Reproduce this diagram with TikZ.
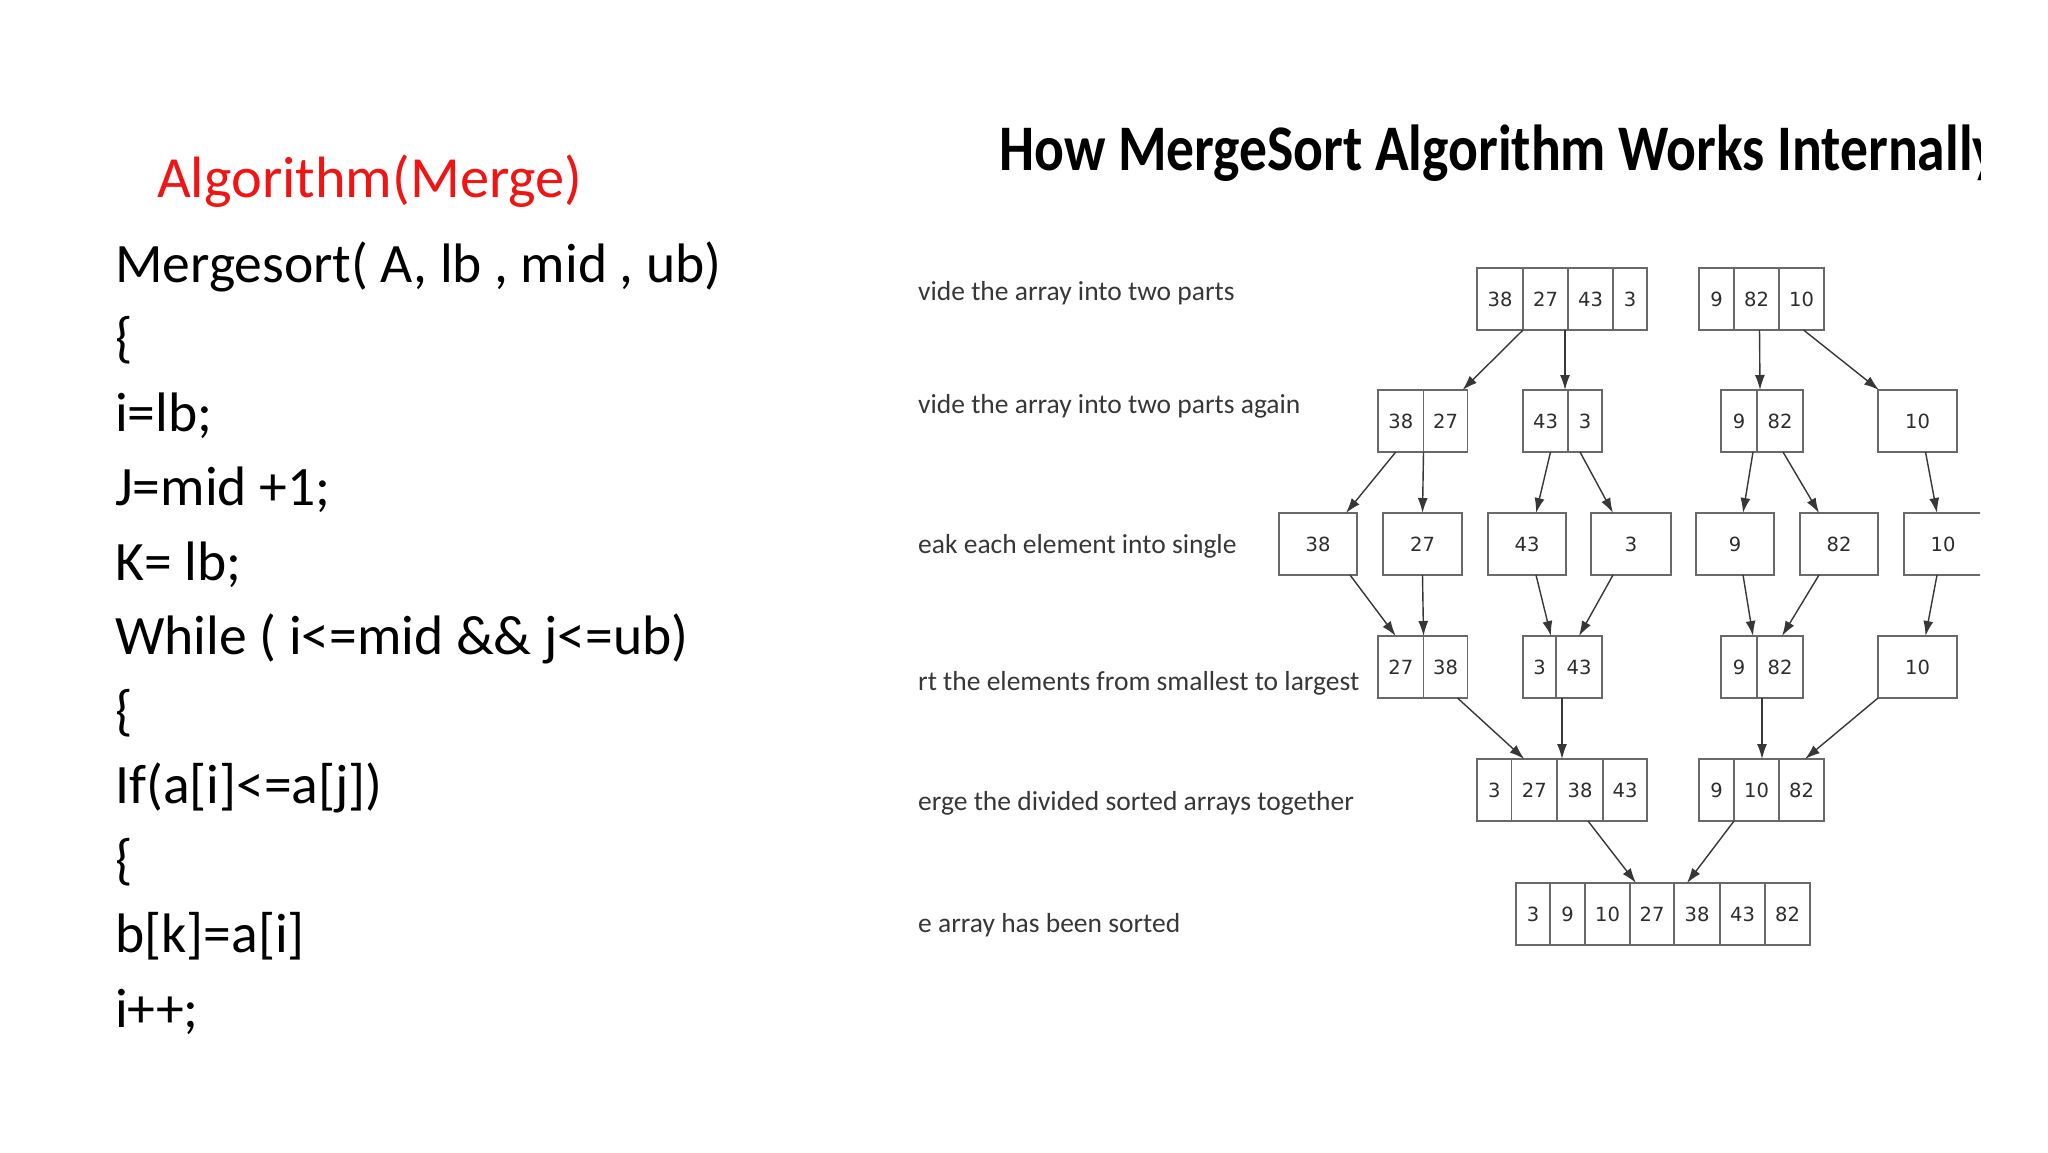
\documentclass[tikz,border=0pt]{standalone}
\usepackage{fontspec}
\setmainfont{Carlito}
\newfontfamily\numfont{DejaVu Sans}
\usetikzlibrary{arrows.meta,calc}
\definecolor{algred}{RGB}{240,20,20}
\definecolor{boxgray}{RGB}{105,105,105}
\definecolor{numgray}{RGB}{45,45,45}
\definecolor{lblgray}{RGB}{55,55,55}
\definecolor{arrgray}{RGB}{55,55,55}
\newcommand\cellnode[5]{\node[cell, minimum width=#4pt] (#1) at (#2,#3) {#5};}
\begin{document}
\begin{tikzpicture}[x=1pt,y=-1pt,
  codeline/.style={anchor=base west, inner sep=0pt, font=\fontsize{55.6}{60}\selectfont, text=black},
  steplabel/.style={anchor=base west, inner sep=0pt, font=\fontsize{27.5}{30}\selectfont, text=lblgray},
  cell/.style={draw=boxgray, line width=1.6pt, minimum height=62pt, inner sep=0pt, outer sep=0pt, anchor=north west, font=\numfont\fontsize{19.5}{22}\selectfont, text=numgray},
  conn/.style={draw=arrgray, line width=1.4pt, -{Latex[length=15pt,width=10pt]}}]
\fill[white] (0,0) rectangle (2048,1152);
\useasboundingbox (0,0) rectangle (2048,1152);

% left code
\node[codeline, text=algred, font=\fontsize{58.3}{60}\selectfont] (alg) at (157,197) {Algorithm(Merge)};
\node[codeline] (l0) at (115,282) {Mergesort( A, lb , mid , ub)};
\node[codeline] (l1) at (115,356.5) {\{};
\node[codeline] (l2) at (115,431) {i=lb;};
\node[codeline] (l3) at (115,505.5) {J=mid +1;};
\node[codeline] (l4) at (115,580) {K= lb;};
\node[codeline] (l5) at (115,654.5) {While ( i<=mid \&\& j<=ub)};
\node[codeline] (l6) at (115,729) {\{};
\node[codeline] (l7) at (115,803.5) {If(a[i]<=a[j])};
\node[codeline] (l8) at (115,878) {\{};
\node[codeline] (l9) at (115,952.5) {b[k]=a[i]};
\node[codeline] (l10) at (115,1027) {i++;};

\begin{scope}
\clip (918,0) rectangle (1980,1152);
% title
\node[anchor=base west, inner sep=0pt, font=\bfseries\fontsize{55.6}{58}\selectfont] (title) at (999,170) {\scalebox{1}[1.17]{How MergeSort Algorithm Works Internally}};

% step labels
\node[steplabel] (s1) at (918,300) {vide the array into two parts};
\node[steplabel] (s2) at (918,413) {vide the array into two parts again};
\node[steplabel] (s3) at (918,553) {eak each element into single};
\node[steplabel] (s4) at (918,690) {rt the elements from smallest to largest};
\node[steplabel] (s5) at (918,810) {erge the divided sorted arrays together};
\node[steplabel] (s6) at (918,932) {e array has been sorted};

% row 1
\cellnode{a1}{1477}{268}{46}{38}
\cellnode{a2}{1523}{268}{45}{27}
\cellnode{a3}{1568}{268}{45}{43}
\cellnode{a4}{1613}{268}{34}{3}
\cellnode{b1}{1699}{268}{35}{9}
\cellnode{b2}{1734}{268}{45}{82}
\cellnode{b3}{1779}{268}{45}{10}
% row 2
\cellnode{c1}{1378}{390}{45.5}{38}
\cellnode{c2}{1423.5}{390}{44}{27}
\cellnode{d1}{1523}{390}{45}{43}
\cellnode{d2}{1568}{390}{34}{3}
\cellnode{e1}{1721}{390}{36}{9}
\cellnode{e2}{1757}{390}{46}{82}
\cellnode{f1}{1878}{390}{79}{10}
% row 3
\cellnode{g38}{1279}{513}{78}{38}
\cellnode{g27}{1383}{513}{79}{27}
\cellnode{g43}{1488}{513}{78}{43}
\cellnode{g3}{1591}{513}{80}{3}
\cellnode{g9}{1696}{513}{78}{9}
\cellnode{g82}{1800}{513}{78}{82}
\cellnode{g10}{1904}{513}{78}{10}
% row 4
\cellnode{h1}{1378}{636}{45.5}{27}
\cellnode{h2}{1423.5}{636}{44}{38}
\cellnode{i1}{1523}{636}{33}{3}
\cellnode{i2}{1556}{636}{46}{43}
\cellnode{j1}{1721}{636}{36}{9}
\cellnode{j2}{1757}{636}{46}{82}
\cellnode{k1}{1878}{636}{79}{10}
% row 5
\cellnode{l1}{1477}{759}{34.5}{3}
\cellnode{l2}{1511.5}{759}{45.5}{27}
\cellnode{l3}{1557}{759}{46}{38}
\cellnode{l4}{1603}{759}{44}{43}
\cellnode{m1}{1699}{759}{35}{9}
\cellnode{m2}{1734}{759}{45}{10}
\cellnode{m3}{1779}{759}{45}{82}
% row 6
\cellnode{n1}{1516}{883}{34}{3}
\cellnode{n2}{1550}{883}{35}{9}
\cellnode{n3}{1585}{883}{45}{10}
\cellnode{n4}{1630}{883}{44}{27}
\cellnode{n5}{1674}{883}{46}{38}
\cellnode{n6}{1720}{883}{45}{43}
\cellnode{n7}{1765}{883}{45}{82}

% arrows row1 -> row2
\draw[conn] (a1.south east) -- ($(c2.north east)+(-5,0)$);
\draw[conn] ($(a3.south west)+(-3,0)$) -- ($(d1.north east)+(-3,0)$);
\draw[conn] ($(b2.south)+(3,0)$) -- ($(e1.north east)+(3,0)$);
\draw[conn] ($(b3.south)+(2,0)$) -- ($(f1.north west)+(1,0)$);
% row2 -> row3
\draw[conn] ($(c1.south)+(-5,0)$) -- ($(g38.north east)+(-11,0)$);
\draw[conn] (c1.south east) -- (g27.north);
\draw[conn] ($(d1.south)+(5,0)$) -- ($(g43.north)+(9,0)$);
\draw[conn] ($(d2.south)+(-5,0)$) -- ($(g3.north)+(-18,0)$);
\draw[conn] ($(e1.south east)+(-4,0)$) -- ($(g9.north)+(8,0)$);
\draw[conn] ($(e2.south)+(3,0)$) -- ($(g82.north)+(-20,0)$);
\draw[conn] ($(f1.south)+(8,0)$) -- ($(g10.north)+(-6,0)$);
% row3 -> row4
\draw[conn] ($(g38.south east)+(-7,0)$) -- ($(h1.north)+(-5,0)$);
\draw[conn] (g27.south) -- (h1.north east);
\draw[conn] ($(g43.south)+(9,0)$) -- ($(i1.north east)+(-5,0)$);
\draw[conn] ($(g3.south)+(-18,0)$) -- (i2.north);
\draw[conn] ($(g9.south)+(8,0)$) -- ($(j1.north east)+(-4,0)$);
\draw[conn] ($(g82.south)+(-20,0)$) -- ($(j2.north)+(2,0)$);
\draw[conn] ($(g10.south)+(-6,0)$) -- ($(k1.north)+(8,0)$);
% row4 -> row5
\draw[conn] ($(h2.south)+(12,0)$) -- ($(l2.north)+(-10,0)$);
\draw[conn] ($(i2.south west)+(6,0)$) -- ($(l3.north west)+(5,0)$);
\draw[conn] ($(j2.south west)+(5,0)$) -- ($(m2.north)+(5.5,0)$);
\draw[conn] (k1.south west) -- ($(m3.north)+(3.5,0)$);
% row5 -> row6
\draw[conn] ($(l3.south)+(8,0)$) -- ($(n4.north)+(-16,0)$);
\draw[conn] (m1.south east) -- ($(n5.north)+(-10,0)$);
\end{scope}
\end{tikzpicture}
\end{document}
